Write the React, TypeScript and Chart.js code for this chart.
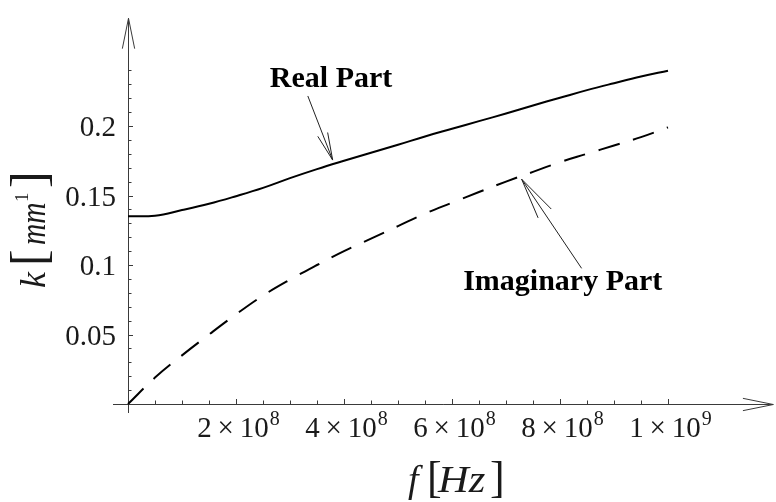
import React, { useEffect, useRef } from "react";
import { Chart, registerables } from "chart.js";

Chart.register(...registerables);

// ---- Data (frequency in Hz, wavenumber k in 1/mm) ----
const FREQ_HZ = [
  0, 0.5e8, 1e8, 1.5e8, 2e8, 2.5e8, 3e8, 3.5e8, 4e8, 4.5e8, 5e8,
  5.5e8, 6e8, 6.5e8, 7e8, 7.5e8, 8e8, 8.5e8, 9e8, 9.5e8, 1e9,
];
const REAL_K = [
  0.135, 0.1355, 0.1395, 0.144, 0.1495, 0.1555, 0.1625, 0.169, 0.175, 0.1808, 0.1865,
  0.1925, 0.198, 0.2035, 0.209, 0.2148, 0.2203, 0.2258, 0.2308, 0.2356, 0.2398,
];
const IMAG_K = [
  0, 0.019, 0.035, 0.05, 0.0645, 0.078, 0.0895, 0.1, 0.11, 0.119, 0.128,
  0.137, 0.1448, 0.1525, 0.16, 0.167, 0.174, 0.18, 0.186, 0.192, 0.199,
];

// ---- Ticks ----
const Y_TICK_VALUES = [0.05, 0.1, 0.15, 0.2];
const Y_TICK_LABELS = ["0.05", "0.1", "0.15", "0.2"];
const Y_MINOR_TICKS = [
  0.01, 0.02, 0.03, 0.04, 0.05, 0.06, 0.07, 0.08, 0.09, 0.1, 0.11, 0.12,
  0.13, 0.14, 0.15, 0.16, 0.17, 0.18, 0.19, 0.2, 0.21, 0.22, 0.23, 0.24,
];
const X_TICK_VALUES = [2e8, 4e8, 6e8, 8e8, 1e9];
const X_TICK_MANTISSA = ["2", "4", "6", "8", "1"];
const X_TICK_EXPONENT = ["8", "8", "8", "8", "9"];
const X_MINOR_TICKS = [
  0.5e8, 1e8, 1.5e8, 2e8, 2.5e8, 3e8, 3.5e8, 4e8, 4.5e8, 5e8,
  5.5e8, 6e8, 6.5e8, 7e8, 7.5e8, 8e8, 8.5e8, 9e8, 9.5e8, 1e9,
];

// ---- Annotations (data coordinates) ----
const REAL_LABEL = { text: "Real Part", f: 3.76e8, k: 0.228 };
const REAL_ARROW = { fromF: 3.33e8, fromK: 0.2216, toF: 3.79e8, toK: 0.1755, head: 28 };
const IMAG_LABEL = { text: "Imaginary Part", f: 8.05e8, k: 0.082 };
const IMAG_ARROW = { fromF: 8.4e8, fromK: 0.0976, toF: 7.29e8, toK: 0.1617, head: 42 };

const W = 776;
const H = 502;
const SERIF = '"Liberation Serif", "Times New Roman", serif';

function arrowHead(ctx: CanvasRenderingContext2D, x1: number, y1: number, x2: number, y2: number, len: number, ang: number) {
  const a = Math.atan2(y1 - y2, x1 - x2);
  ctx.beginPath();
  ctx.moveTo(x2 + len * Math.cos(a + ang), y2 + len * Math.sin(a + ang));
  ctx.lineTo(x2, y2);
  ctx.lineTo(x2 + len * Math.cos(a - ang), y2 + len * Math.sin(a - ang));
  ctx.stroke();
}

function arrow(ctx: CanvasRenderingContext2D, x1: number, y1: number, x2: number, y2: number, len: number, ang: number) {
  ctx.beginPath();
  ctx.moveTo(x1, y1);
  ctx.lineTo(x2, y2);
  ctx.stroke();
  arrowHead(ctx, x1, y1, x2, y2, len, ang);
}

const decorPlugin = {
  id: "decor",
  beforeDraw(chart: any) {
    const ctx = chart.ctx as CanvasRenderingContext2D;
    ctx.save();
    ctx.fillStyle = "#ffffff";
    ctx.fillRect(0, 0, chart.width, chart.height);
    ctx.restore();
  },
  beforeDatasetsDraw(chart: any) {
    const ctx = chart.ctx as CanvasRenderingContext2D;
    const xs = chart.scales.x;
    const ys = chart.scales.y;
    const x0 = xs.getPixelForValue(0);
    const y0 = ys.getPixelForValue(0);
    const xEnd = xs.getPixelForValue(1.195e9);
    const yEnd = ys.getPixelForValue(0.2775);
    ctx.save();
    ctx.strokeStyle = "#3a3a3a";
    ctx.lineWidth = 1;
    // axes lines
    ctx.beginPath();
    ctx.moveTo(x0 - 15, y0 + 0.5);
    ctx.lineTo(xEnd, y0 + 0.5);
    ctx.moveTo(x0 + 0.5, y0 + 9);
    ctx.lineTo(x0 + 0.5, yEnd);
    ctx.stroke();
    arrowHead(ctx, x0 + 0.5, y0, x0 + 0.5, yEnd, 31, 0.2);
    arrowHead(ctx, x0, y0 + 0.5, xEnd, y0 + 0.5, 31, 0.2);
    // minor / major ticks
    ctx.beginPath();
    for (const v of Y_MINOR_TICKS) {
      const y = Math.round(ys.getPixelForValue(v)) + 0.5;
      const major = Y_TICK_VALUES.some((t) => Math.abs(t - v) < 1e-9);
      ctx.moveTo(x0, y);
      ctx.lineTo(x0 + (major ? 5 : 3.5), y);
    }
    for (const v of X_MINOR_TICKS) {
      const x = Math.round(xs.getPixelForValue(v)) + 0.5;
      const major = X_TICK_VALUES.some((t) => Math.abs(t - v) < 1);
      ctx.moveTo(x, y0);
      ctx.lineTo(x, y0 - (major ? 5 : 3.5));
    }
    ctx.stroke();

    // y tick labels
    ctx.fillStyle = "#1a1a1a";
    ctx.font = `29px ${SERIF}`;
    ctx.textAlign = "right";
    ctx.textBaseline = "alphabetic";
    Y_TICK_VALUES.forEach((v, i) => {
      ctx.fillText(Y_TICK_LABELS[i], x0 - 12, ys.getPixelForValue(v) + 10);
    });

    // x tick labels: m × 10^e
    ctx.textAlign = "left";
    X_TICK_VALUES.forEach((v, i) => {
      const base = `${X_TICK_MANTISSA[i]}\u2009\u00d7\u200910`;
      ctx.font = `29px ${SERIF}`;
      const wb = ctx.measureText(base).width;
      ctx.font = `20px ${SERIF}`;
      const we = ctx.measureText(X_TICK_EXPONENT[i]).width;
      const cx = xs.getPixelForValue(v) + 2;
      const left = cx - (wb + we) / 2;
      ctx.font = `29px ${SERIF}`;
      ctx.fillText(base, left, y0 + 33);
      ctx.font = `20px ${SERIF}`;
      ctx.fillText(X_TICK_EXPONENT[i], left + wb + 1, y0 + 21);
    });

    // x axis title: f [Hz]
    const tb = y0 + 88;
    ctx.font = `italic 38px ${SERIF}`;
    ctx.fillText("f", 408, tb);
    ctx.font = `44px ${SERIF}`;
    ctx.fillText("[", 427, tb);
    ctx.save();
    ctx.translate(438, tb);
    ctx.scale(1.12, 1);
    ctx.font = `italic 38px ${SERIF}`;
    ctx.fillText("Hz", 0, 0);
    ctx.restore();
    ctx.font = `44px ${SERIF}`;
    ctx.fillText("]", 490, tb);

    // y axis title: k [mm^1] rotated
    ctx.save();
    ctx.translate(45, 288);
    ctx.rotate(-Math.PI / 2);
    ctx.font = `italic 36px ${SERIF}`;
    ctx.fillText("k", 0, 0);
    ctx.font = `50px ${SERIF}`;
    ctx.fillText("[", 22, 0);
    ctx.save();
    ctx.translate(43, 0);
    ctx.scale(0.82, 1);
    ctx.font = `italic 36px ${SERIF}`;
    ctx.fillText("mm", 0, 0);
    ctx.restore();
    ctx.font = `19px ${SERIF}`;
    ctx.fillText("1", 86, -17);
    ctx.font = `50px ${SERIF}`;
    ctx.fillText("]", 100, 0);
    ctx.restore();

    ctx.restore();
  },
  afterDraw(chart: any) {
    const ctx = chart.ctx as CanvasRenderingContext2D;
    const xs = chart.scales.x;
    const ys = chart.scales.y;
    ctx.save();
    ctx.fillStyle = "#000";
    ctx.font = `bold 30px ${SERIF}`;
    ctx.textAlign = "center";
    ctx.textBaseline = "alphabetic";
    ctx.fillText(REAL_LABEL.text, xs.getPixelForValue(REAL_LABEL.f), ys.getPixelForValue(REAL_LABEL.k));
    ctx.fillText(IMAG_LABEL.text, xs.getPixelForValue(IMAG_LABEL.f), ys.getPixelForValue(IMAG_LABEL.k));
    ctx.strokeStyle = "#222";
    ctx.lineWidth = 1;
    for (const a of [REAL_ARROW, IMAG_ARROW]) {
      arrow(
        ctx,
        xs.getPixelForValue(a.fromF),
        ys.getPixelForValue(a.fromK),
        xs.getPixelForValue(a.toF),
        ys.getPixelForValue(a.toK),
        a.head,
        0.19
      );
    }
    ctx.restore();
  },
};

export default function App() {
  const ref = useRef<HTMLCanvasElement | null>(null);
  useEffect(() => {
    if (!ref.current) return;
    const chart = new Chart(ref.current, {
      type: "line",
      data: {
        datasets: [
          {
            label: "Real Part",
            data: FREQ_HZ.map((f, i) => ({ x: f, y: REAL_K[i] })),
            borderColor: "#000",
            borderWidth: 2,
            pointRadius: 0,
            tension: 0.4,
            clip: false as any,
          },
          {
            label: "Imaginary Part",
            data: FREQ_HZ.map((f, i) => ({ x: f, y: IMAG_K[i] })),
            borderColor: "#000",
            borderWidth: 2,
            borderDash: [22, 14],
            pointRadius: 0,
            tension: 0.4,
            clip: false as any,
          },
        ],
      },
      options: {
        responsive: false,
        animation: false,
        devicePixelRatio: 1,
        layout: { padding: { left: 128, right: 27, top: 56.5, bottom: 98 } },
        plugins: { legend: { display: false }, tooltip: { enabled: false } },
        scales: {
          x: { type: "linear", min: 0, max: 1.15e9, display: false },
          y: { type: "linear", min: 0, max: 0.25, display: false },
        },
      },
      plugins: [decorPlugin],
    });
    return () => chart.destroy();
  }, []);
  return (
    <div style={{ position: "fixed", left: 0, top: 0, width: W, height: H, background: "#fff" }}>
      <canvas ref={ref} width={W} height={H} style={{ display: "block", width: W, height: H }} />
    </div>
  );
}
